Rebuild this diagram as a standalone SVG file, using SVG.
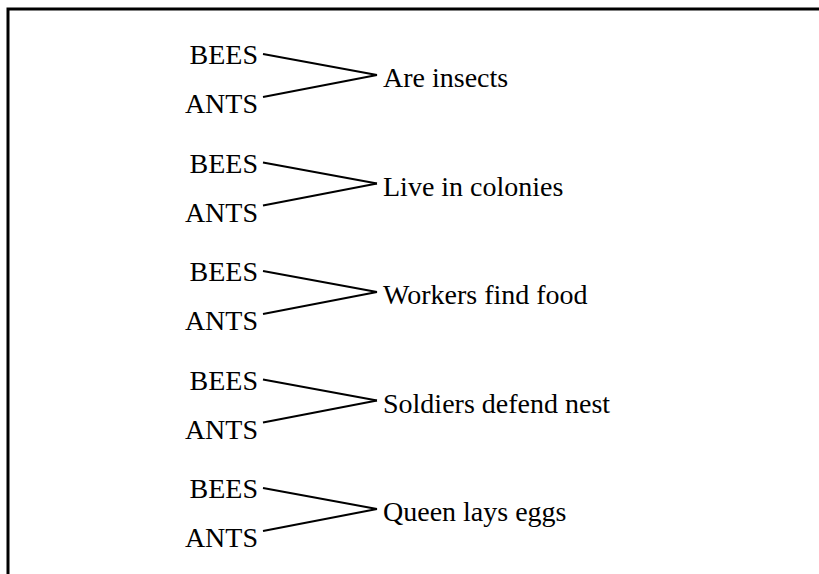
<svg xmlns="http://www.w3.org/2000/svg" width="819" height="574" viewBox="0 0 819 574">
<style>
.t{font-family:"Liberation Serif","Times New Roman",serif;font-size:28px;fill:#000}
.l{text-anchor:end}
.c{stroke:#000;stroke-width:2;fill:none}
</style>
<rect x="0" y="0" width="819" height="574" fill="#fff"/>
<rect id="frame" x="8" y="9" width="1000" height="1000" fill="none" stroke="#000" stroke-width="3"/>
<g id="connectors">
<g transform="translate(0,0)"><line class="c" x1="263" y1="54" x2="377" y2="75"/><line class="c" x1="263" y1="97" x2="377" y2="75"/></g>
<g transform="translate(0,108.5)"><line class="c" x1="263" y1="54" x2="377" y2="75"/><line class="c" x1="263" y1="97" x2="377" y2="75"/></g>
<g transform="translate(0,217)"><line class="c" x1="263" y1="54" x2="377" y2="75"/><line class="c" x1="263" y1="97" x2="377" y2="75"/></g>
<g transform="translate(0,325.5)"><line class="c" x1="263" y1="54" x2="377" y2="75"/><line class="c" x1="263" y1="97" x2="377" y2="75"/></g>
<g transform="translate(0,434)"><line class="c" x1="263" y1="54" x2="377" y2="75"/><line class="c" x1="263" y1="97" x2="377" y2="75"/></g>
</g>
<g id="g1" transform="translate(0,0)"><text class="t l" x="258" y="64">BEES</text><text class="t l" x="258" y="113">ANTS</text><text class="t" x="383" y="87">Are insects</text></g>
<g id="g2" transform="translate(0,108.5)"><text class="t l" x="258" y="64">BEES</text><text class="t l" x="258" y="113">ANTS</text><text class="t" x="383" y="87">Live in colonies</text></g>
<g id="g3" transform="translate(0,217)"><text class="t l" x="258" y="64">BEES</text><text class="t l" x="258" y="113">ANTS</text><text class="t" x="383" y="87">Workers find food</text></g>
<g id="g4" transform="translate(0,325.5)"><text class="t l" x="258" y="64">BEES</text><text class="t l" x="258" y="113">ANTS</text><text class="t" x="383" y="87">Soldiers defend nest</text></g>
<g id="g5" transform="translate(0,434)"><text class="t l" x="258" y="64">BEES</text><text class="t l" x="258" y="113">ANTS</text><text class="t" x="383" y="87">Queen lays eggs</text></g>
</svg>
